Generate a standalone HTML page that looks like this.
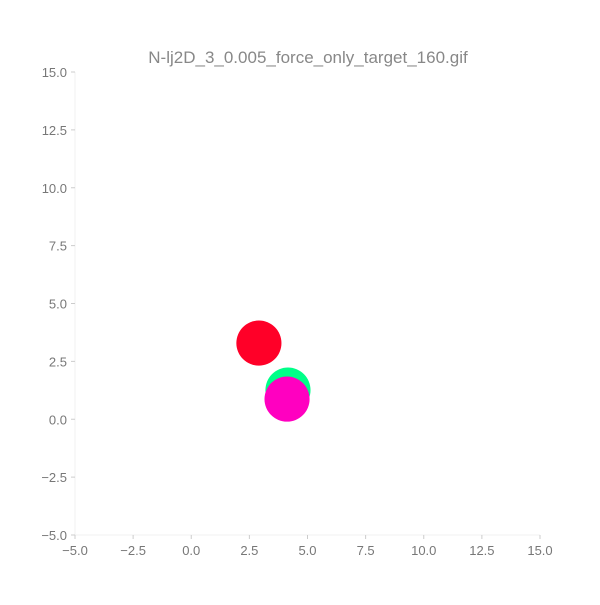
<!DOCTYPE html>
<html><head><meta charset="utf-8"><style>
body{margin:0;background:#fff;}
svg text{font-family:"Liberation Sans","DejaVu Sans",sans-serif;fill:#777;}
</style></head><body>
<svg id="chart" width="600" height="600" xmlns="http://www.w3.org/2000/svg">
<rect width="600" height="600" fill="#fff"/>
<text x="308" y="63" font-size="17" text-anchor="middle" style="fill:#888">N-lj2D_3_0.005_force_only_target_160.gif</text>
<g id="axes"></g>
<g id="marks"></g>
</svg>
<script>
const xTicks=[-5,-2.5,0,2.5,5,7.5,10,12.5,15];
const yTicks=[-5,-2.5,0,2.5,5,7.5,10,12.5,15];
const xTickLabels=["−5.0","−2.5","0.0","2.5","5.0","7.5","10.0","12.5","15.0"];
const yTickLabels=["−5.0","−2.5","0.0","2.5","5.0","7.5","10.0","12.5","15.0"];
const particleX=[2.91,4.16,4.12];
const particleY=[3.29,1.26,0.87];
const particleR=[0.97,0.97,0.97];
const particleNames=["particle-red","particle-green","particle-magenta"];
const particleColors=["#ff0028","#00ff88","#ff00c0"];
const NS="http://www.w3.org/2000/svg";
const X0=75,X1=540,Y0=535,Y1=72;
const sx=v=>X0+(v+5)/20*(X1-X0);
const sy=v=>Y0-(v+5)/20*(Y0-Y1);
const axes=document.getElementById('axes'),marks=document.getElementById('marks');
function mk(tag,attrs,parent){const e=document.createElementNS(NS,tag);for(const k in attrs)e.setAttribute(k,attrs[k]);parent.appendChild(e);return e;}
const sp=mk('line',{x1:X0,y1:Y1,x2:X0,y2:Y0,stroke:'#f0f0f0'},axes);


const sp2=mk('line',{x1:X0,y1:Y0,x2:X1,y2:Y0,stroke:'#f0f0f0'},axes);


xTicks.forEach((v,i)=>{
  const t=mk('line',{x1:sx(v),x2:sx(v),y1:Y0,y2:Y0+4,stroke:'#ccc'},axes);
  
  
  const l=mk('text',{x:sx(v),y:Y0+20,'font-size':13,'text-anchor':'middle'},axes);
  l.textContent=xTickLabels[i];
  
  
});
yTicks.forEach((v,i)=>{
  const t=mk('line',{x1:X0-4,x2:X0,y1:sy(v),y2:sy(v),stroke:'#ccc'},axes);
  
  
  const l=mk('text',{x:X0-8,y:sy(v)+5,'font-size':13,'text-anchor':'end'},axes);
  l.textContent=yTickLabels[i];
  
  
});
particleX.forEach((v,i)=>{
  const c=mk('circle',{cx:sx(v),cy:sy(particleY[i]),r:particleR[i]*(X1-X0)/20,fill:particleColors[i]},marks);
  
  
});
</script>
</body></html>
